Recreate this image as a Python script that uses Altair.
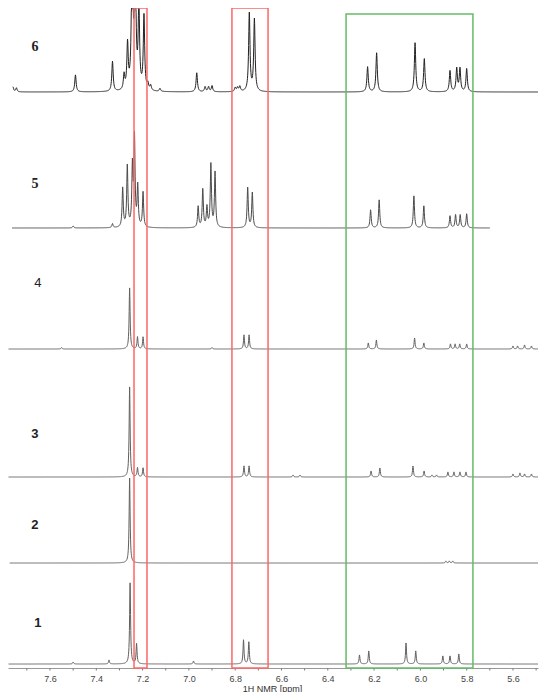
import altair as alt
import numpy as np
import pandas as pd

# ---------------- data ----------------
spectra = ["1", "2", "3", "4", "5", "6"]
offsets = [4, 105, 191, 319, 440, 576]          # baseline level of each trace (intensity units)
x_start = [7.78, 7.775, 7.78, 7.78, 7.765, 7.76]
x_end = [5.49, 5.47, 5.47, 5.47, 5.70, 5.47]
hwhm = [0.0025, 0.0025, 0.0025, 0.0025, 0.003, 0.0035]
line_colors = ["#606060", "#606060", "#606060", "#606060", "#4a4a4a", "#222222"]

# peak lists (ppm, apex height)
p1_ppm = [7.50, 7.345, 7.254, 7.226, 6.98, 6.764, 6.741, 6.263, 6.223, 6.062, 6.020, 5.903, 5.872, 5.834]
p1_h = [2, 4, 81, 20, 3, 24, 22, 9, 13, 21, 13, 8, 8, 10]

p2_ppm = [7.256, 5.89, 5.875, 5.86]
p2_h = [85, 2, 2, 2]

p3_ppm = [7.256, 7.222, 7.198, 6.762, 6.740, 6.55, 6.52, 6.213, 6.175, 6.032, 5.984, 5.95, 5.93,
          5.881, 5.855, 5.829, 5.803, 5.60, 5.57, 5.55, 5.52]
p3_h = [90, 9, 9, 11, 11, 2, 2, 6, 9, 11, 6, 2, 2, 5, 5, 5, 5, 3, 4, 3, 3]

p4_ppm = [7.55, 7.256, 7.222, 7.198, 6.90, 6.762, 6.740, 6.225, 6.19, 6.025, 5.985,
          5.87, 5.85, 5.83, 5.80, 5.60, 5.58, 5.55, 5.52]
p4_h = [1.5, 61, 12, 12, 1.5, 14, 14, 6, 9, 11, 6, 5, 5, 5, 5, 3, 3, 4, 3]

p5_ppm = [7.50, 7.33, 7.286, 7.266, 7.244, 7.235, 7.221, 7.198, 6.960, 6.940, 6.922, 6.905, 6.887,
          6.746, 6.726, 6.215, 6.178, 6.028, 5.985, 5.872, 5.848, 5.828, 5.800]
p5_h = [2, 4, 39, 61, 59, 88, 40, 35, 21, 38, 20, 63, 55, 40, 35, 18, 28, 32, 22, 12, 13, 13, 14]

p6_ppm = [7.76, 7.745, 7.49, 7.33, 7.28, 7.265, 7.245, 7.232, 7.216, 7.194, 7.177, 7.165, 7.125, 6.966,
          6.93, 6.915, 6.90, 6.80, 6.79, 6.78, 6.739, 6.717, 6.228, 6.189, 6.023, 5.983,
          5.872, 5.843, 5.829, 5.800]
p6_h = [5, 4, 17, 30, 15, 45, 160, 150, 84, 74, 6, 5, 3, 19, 5, 5, 6, 4, 4, 5, 78, 72,
        25, 39, 49, 33, 21, 23, 23, 23]

peak_ppm = [p1_ppm, p2_ppm, p3_ppm, p4_ppm, p5_ppm, p6_ppm]
peak_h = [p1_h, p2_h, p3_h, p4_h, p5_h, p6_h]

label_text = ["6", "5", "4", "3", "2", "1"]
label_ppm = [7.665, 7.665, 7.652, 7.665, 7.665, 7.652]
label_y = [621, 484, 385, 234, 143, 45]

# boxes: ppm range and vertical range (intensity units)
box_x1 = [7.237, 6.814, 6.321]
box_x2 = [7.181, 6.658, 5.773]
box_y1 = [0, 0, 0]
box_y2 = [700, 660, 654]
box_color = ["#ff6666", "#ff6666", "#66bb66"]

label_values = [7.6, 7.4, 7.2, 7.0, 6.8, 6.6, 6.4, 6.2, 6.0, 5.8, 5.6]
tick_values = [7.7, 7.6, 7.5, 7.4, 7.3, 7.2, 7.1, 7.0, 6.9, 6.8, 6.7, 6.6, 6.5, 6.4, 6.3, 6.2,
               6.1, 6.0, 5.9, 5.8, 5.7, 5.6, 5.5]

# ---------------- build traces (Lorentzian lines from the peak lists) ----------------
rows = []
for i, s in enumerate(spectra):
    grid = np.arange(x_end[i], x_start[i], 0.001)
    grid = np.unique(np.concatenate([grid, np.array(peak_ppm[i])]))
    grid = grid[(grid >= x_end[i]) & (grid <= x_start[i])]
    yv = np.full(grid.shape, float(offsets[i]))
    for c, h in zip(peak_ppm[i], peak_h[i]):
        yv += h / (1.0 + ((grid - c) / hwhm[i]) ** 2)
    for g, v in zip(grid, yv):
        rows.append({"spec": s, "ppm": round(float(g), 4), "y": round(float(v), 2)})
df = pd.DataFrame(rows)

boxes = pd.DataFrame({"x1": box_x1, "x2": box_x2, "y1": box_y1, "y2": box_y2, "c": box_color})
labels = pd.DataFrame({"t": label_text, "ppm": label_ppm, "y": label_y})
ticks = pd.DataFrame({"ppm": tick_values})

W, H = 530, 660
xscale = alt.Scale(domain=[5.4919, 7.7814], reverse=True, nice=False, zero=False)
yscale = alt.Scale(domain=[0, H], clamp=True, nice=False, zero=False)

xaxis = alt.Axis(
    values=label_values,
    format=".1f",
    title="1H NMR [ppm]",
    grid=False,
    ticks=False,
    domainColor="#999999",
    labelFont="Liberation Sans",
    labelFontSize=9,
    labelColor="#444444",
    labelPadding=6,
    labelOverlap=False,
    labelFlush=False,
    titleFont="Liberation Sans",
    titleFontSize=9,
    titleFontWeight="normal",
    titleColor="#333333",
    titleX=264,
    titleY=23,
    titleAlign="center",
    titleBaseline="alphabetic",
)

lines = alt.Chart(df).mark_line(strokeWidth=1, clip=True, interpolate="linear").encode(
    x=alt.X("ppm:Q", scale=xscale, axis=xaxis),
    y=alt.Y("y:Q", scale=yscale, axis=None),
    detail="spec:N",
    color=alt.Color("spec:N", scale=alt.Scale(domain=spectra, range=line_colors), legend=None),
    order=alt.Order("ppm:Q"),
)

tick_marks = alt.Chart(ticks).mark_rule(color="#777777", strokeWidth=1).encode(
    x=alt.X("ppm:Q", scale=xscale),
    y=alt.value(H + 0.5),
    y2=alt.value(H + 2.5),
)

rects = alt.Chart(boxes).mark_rect(fillOpacity=0, strokeWidth=1.5).encode(
    x=alt.X("x1:Q", scale=xscale),
    x2="x2:Q",
    y=alt.Y("y1:Q", scale=yscale),
    y2="y2:Q",
    stroke=alt.Stroke("c:N", scale=None),
)

serif_lab = alt.Chart(labels).transform_filter(
    alt.FieldOneOfPredicate(field="t", oneOf=["6", "5"])
).mark_text(font="Liberation Serif", fontSize=14, fontWeight="bold", color="#222222").encode(
    x=alt.X("ppm:Q", scale=xscale), y=alt.Y("y:Q", scale=yscale), text="t:N"
)
sans_lab = alt.Chart(labels).transform_filter(
    alt.FieldOneOfPredicate(field="t", oneOf=["3", "2", "1"])
).mark_text(font="Liberation Sans", fontSize=13, fontWeight="bold", color="#222222").encode(
    x=alt.X("ppm:Q", scale=xscale), y=alt.Y("y:Q", scale=yscale), text="t:N"
)
thin_lab = alt.Chart(labels).transform_filter(
    alt.FieldOneOfPredicate(field="t", oneOf=["4"])
).mark_text(font="Liberation Sans", fontSize=13, color="#222222").encode(
    x=alt.X("ppm:Q", scale=xscale), y=alt.Y("y:Q", scale=yscale), text="t:N"
)

chart = alt.layer(lines, tick_marks, rects, serif_lab, sans_lab, thin_lab).properties(
    width=W, height=H,
    autosize=alt.AutoSizeParams(type="none"),
    padding={"left": 0, "top": 0, "right": 4, "bottom": 24},
    background="white",
).configure_view(stroke=None)

chart.save("out.html", embed_options={"renderer": "svg", "actions": False})
